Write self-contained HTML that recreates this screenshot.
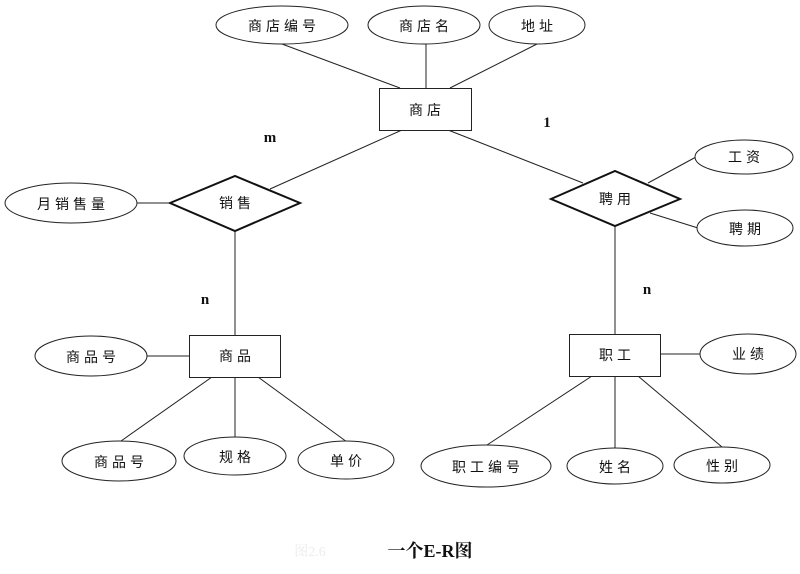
<!DOCTYPE html>
<html>
<head>
<meta charset="utf-8">
<style>
html,body{margin:0;padding:0;background:#fff;}
svg{display:block;}
.t{font-family:"Liberation Sans","Noto Sans CJK SC",sans-serif;font-size:14px;fill:#111;letter-spacing:4px;}
.c{font-family:"Liberation Serif","Noto Serif CJK SC",serif;font-weight:bold;fill:#111;}
</style>
</head>
<body>
<svg width="800" height="574" viewBox="0 0 800 574" xmlns="http://www.w3.org/2000/svg">
<g stroke="#222" stroke-width="1" fill="none">
  <!-- lines top -->
  <line x1="282" y1="44" x2="400" y2="88"/>
  <line x1="426" y1="44" x2="426" y2="88"/>
  <line x1="537" y1="44" x2="450" y2="88"/>
  <line x1="402" y1="130" x2="270" y2="189"/>
  <line x1="448" y1="130" x2="583" y2="183"/>
  <!-- left -->
  <line x1="137" y1="203" x2="170" y2="203"/>
  <line x1="235" y1="231" x2="235" y2="335"/>
  <line x1="147" y1="356" x2="189" y2="356"/>
  <line x1="212" y1="377" x2="121" y2="441"/>
  <line x1="235" y1="377" x2="235" y2="437"/>
  <line x1="258" y1="377" x2="347" y2="442"/>
  <!-- right -->
  <line x1="648" y1="183" x2="696" y2="157"/>
  <line x1="650" y1="213" x2="698" y2="228"/>
  <line x1="615" y1="226" x2="615" y2="334"/>
  <line x1="660" y1="354" x2="700" y2="354"/>
  <line x1="592" y1="376" x2="487" y2="445"/>
  <line x1="615" y1="376" x2="615" y2="448"/>
  <line x1="638" y1="376" x2="722" y2="447"/>
</g>
<g stroke="#222" stroke-width="1" fill="#fff">
  <ellipse cx="282" cy="25" rx="66" ry="19"/>
  <ellipse cx="424" cy="25" rx="56" ry="19"/>
  <ellipse cx="537" cy="25" rx="48" ry="19"/>
  <rect x="379.5" y="88.5" width="92" height="42"/>
  <ellipse cx="71" cy="203" rx="66" ry="20"/>
  <ellipse cx="91" cy="356" rx="56" ry="20"/>
  <rect x="189.5" y="335.5" width="91" height="42"/>
  <ellipse cx="119" cy="461" rx="57" ry="20"/>
  <ellipse cx="235" cy="456" rx="51" ry="19"/>
  <ellipse cx="346" cy="460" rx="48" ry="19"/>
  <ellipse cx="744" cy="157" rx="49" ry="17"/>
  <ellipse cx="745" cy="228" rx="48" ry="18"/>
  <rect x="569.5" y="334.5" width="91" height="42"/>
  <ellipse cx="748" cy="354" rx="48" ry="20"/>
  <ellipse cx="486" cy="466" rx="65" ry="21"/>
  <ellipse cx="615" cy="466" rx="48" ry="18"/>
  <ellipse cx="722" cy="465" rx="48" ry="18"/>
</g>
<g stroke="#111" stroke-width="2" fill="#fff">
  <polygon points="170,203 235,176 300,203 235,231"/>
  <polygon points="551,199 615,171 680,199 615,226"/>
</g>
<g class="t" text-anchor="middle" dominant-baseline="central">
  <text x="284" y="26">商店编号</text>
  <text x="426" y="26">商店名</text>
  <text x="539" y="26">地址</text>
  <text x="427" y="110">商店</text>
  <text x="73" y="204">月销售量</text>
  <text x="237" y="203">销售</text>
  <text x="617" y="199">聘用</text>
  <text x="746" y="157">工资</text>
  <text x="747" y="229">聘期</text>
  <text x="93" y="357">商品号</text>
  <text x="237" y="356">商品</text>
  <text x="617" y="355">职工</text>
  <text x="750" y="354">业绩</text>
  <text x="121" y="462">商品号</text>
  <text x="237" y="457">规格</text>
  <text x="348" y="461">单价</text>
  <text x="488" y="467">职工编号</text>
  <text x="617" y="467">姓名</text>
  <text x="724" y="466">性别</text>
</g>
<g class="c" font-size="15" text-anchor="middle">
  <text x="270" y="142">m</text>
  <text x="547" y="127">1</text>
  <text x="205" y="304">n</text>
  <text x="647" y="294">n</text>
</g>
<text x="310" y="556" text-anchor="middle" font-family="'Liberation Serif','Noto Serif CJK SC',serif" font-size="14" fill="#ececec">图2.6</text>
<text x="430" y="557" text-anchor="middle" class="c" font-size="18" font-family="'Liberation Serif','Noto Serif CJK SC',serif">一个E-R图</text>
</svg>
</body>
</html>
